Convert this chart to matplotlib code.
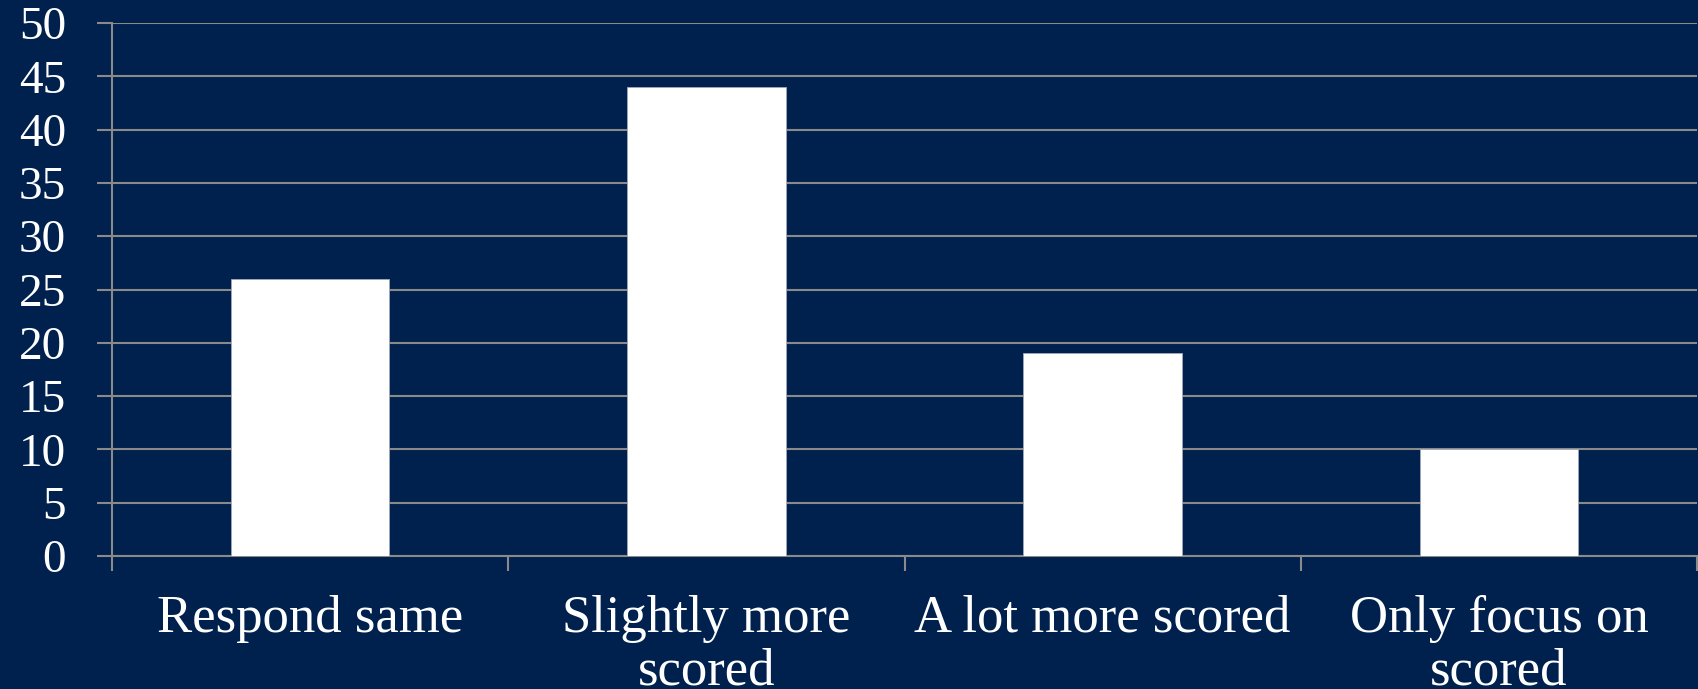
import matplotlib.pyplot as plt
import numpy as np

categories = ["Respond same", "Slightly more\nscored", "A lot more scored", "Only focus on\nscored"]
values = [26, 44, 19, 10]
y_ticks = [0, 5, 10, 15, 20, 25, 30, 35, 40, 45, 50]

navy = "#00214D"
grid_gray = "#8A8A8A"

fig = plt.figure(figsize=(16.98, 6.89), dpi=100)
fig.patch.set_facecolor(navy)
ax = fig.add_axes([112 / 1698, 1 - 556 / 689, (1697 - 112) / 1698, (556 - 23) / 689])
ax.set_facecolor(navy)

x = np.arange(len(categories))
ax.bar(x, values, width=0.4, color="white", edgecolor="#A0A8B8", linewidth=0.6, zorder=3)

ax.set_xlim(-0.5, len(categories) - 0.5)
ax.set_ylim(0, 50)
ax.set_yticks(y_ticks)
ax.yaxis.grid(True, color=grid_gray, linewidth=1.5, zorder=0)

# category boundary ticks on the x axis
ax.set_xticks(np.arange(len(categories) + 1) - 0.5, minor=False)
ax.set_xticklabels([])
ax.set_xticks(x, minor=True)
ax.set_xticklabels(categories, minor=True, fontsize=38, color="white",
                   family="Liberation Serif", linespacing=1.12)
ax.tick_params(axis="x", which="minor", length=0, pad=28)
ax.tick_params(axis="x", which="major", length=11, width=1.5, color=grid_gray, direction="out")
ax.tick_params(axis="y", length=11, width=1.5, color=grid_gray, pad=22,
               labelsize=34, labelcolor="white")
for lbl in ax.get_yticklabels():
    lbl.set_family("Liberation Serif")

for side in ["top", "right"]:
    ax.spines[side].set_visible(False)
for side in ["left", "bottom"]:
    ax.spines[side].set_color(grid_gray)
    ax.spines[side].set_linewidth(1.5)

fig.savefig("out.png", dpi=100, facecolor=navy)
